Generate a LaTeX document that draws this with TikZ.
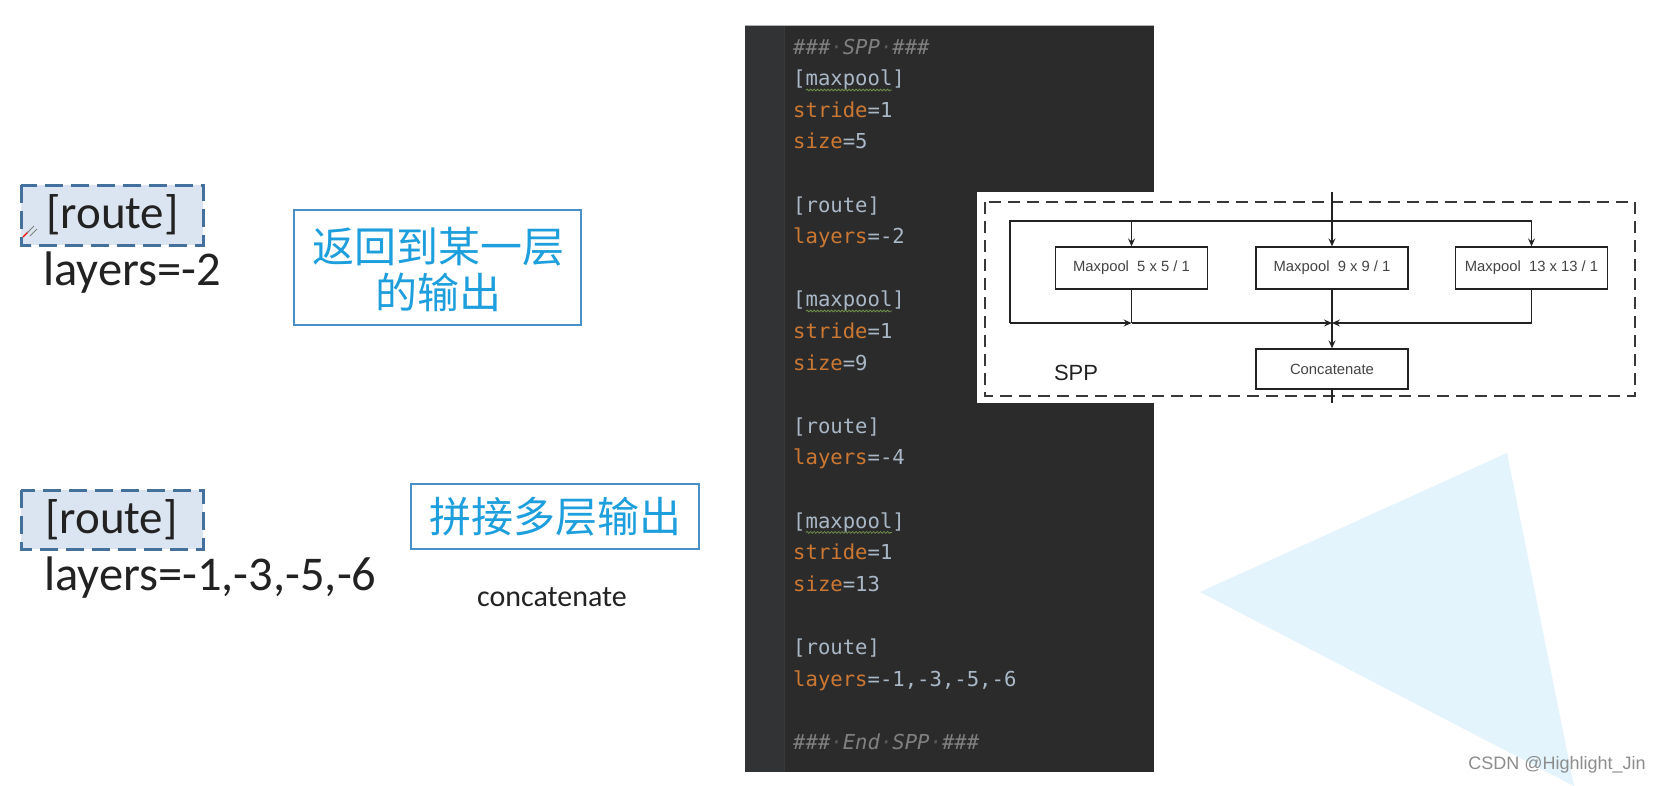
\documentclass[tikz,border=0pt]{standalone}
\usepackage{fontspec}
\setmainfont{Carlito}
\newfontfamily\cjk{Noto Sans CJK SC}
\newfontfamily\codefont{DejaVu Sans Mono}
\newfontfamily\arial{Liberation Sans}
\usetikzlibrary{arrows.meta,decorations.pathmorphing}
\definecolor{panel}{HTML}{2B2B2B}
\definecolor{gutter}{HTML}{313335}
\definecolor{kw}{HTML}{CC7832}
\definecolor{val}{HTML}{A9B7C6}
\definecolor{cmt}{HTML}{808080}
\definecolor{wsdot}{HTML}{5A5A5A}
\definecolor{wave}{HTML}{6F8F4A}
\definecolor{routefill}{HTML}{DAE5F1}
\definecolor{routeline}{HTML}{44709D}
\definecolor{cjkline}{HTML}{4A90C8}
\definecolor{cjktext}{HTML}{1E9FDD}
\definecolor{tri}{HTML}{E3F4FC}
\definecolor{ink}{HTML}{222222}
\definecolor{boxtext}{HTML}{444444}
\definecolor{mark}{HTML}{8C8C8C}
\tikzset{
  code/.style={inner sep=0pt, anchor=base west, font=\codefont\fontsize{20.6}{24}\selectfont, text=val},
  cmtline/.style={code, text=cmt, font=\codefont\itshape\fontsize{20.6}{24}\selectfont},
  wavy/.style={draw=wave, line width=0.8pt, decorate, decoration={snake, amplitude=0.9pt, segment length=3.5pt}},
  routebox/.style={draw=routeline, fill=routefill, line width=3pt, dash pattern=on 18pt off 8pt},
  routetxt/.style={inner sep=0pt, anchor=west, text=ink, font=\fontsize{47}{50}\selectfont},
  layerstxt/.style={inner sep=0pt, anchor=west, text=ink, font=\fontsize{48.5}{52}\selectfont},
  cjkbox/.style={draw=cjkline, line width=2.2pt},
  cjktxt/.style={inner sep=0pt, text=cjktext, font=\cjk\fontsize{42}{46}\selectfont},
  sppbox/.style={draw=ink, line width=1.3pt, fill=white, minimum width=152pt, minimum height=42pt, inner sep=0pt, text=boxtext, font=\arial\fontsize{14.8}{16}\selectfont},
  sppline/.style={draw=ink, line width=1.3pt},
  spparrow/.style={sppline, -{Stealth[length=8pt,width=7pt,inset=3pt]}},
}
\begin{document}
\begin{tikzpicture}[x=1pt,y=-1pt]
\useasboundingbox (0,0) rectangle (1662,785);
\fill[white] (0,0) rectangle (1662,785);

% background triangle
\fill[tri] (1507,453) -- (1200,592) -- (1574,786) -- cycle;

% ---------- left side ----------
\draw[routebox] (21,185) rectangle (203,245);
\node[routetxt] (r1) at (46,215) {[route]};
\node[layerstxt] (l1) at (43,273) {layers=-2};
\draw[red, line width=1.2pt] (23,237) -- (28,232);
\draw[gray, line width=0.8pt] (27,233) -- (34,226) (30,236) -- (37,229);

\node[cjkbox, minimum width=287pt, minimum height=115pt, inner sep=0pt] (z1) at (437.5,267.5) {};
\node[cjktxt] (z1a) at (438,247) {返回到某一层};
\node[cjktxt] (z1b) at (438,292) {的输出};

\draw[routebox] (21,490) rectangle (203,549);
\node[routetxt] (r2) at (45,520) {[route]};
\node[layerstxt] (l2) at (44,578) {layers=-1,-3,-5,-6};

\node[cjkbox, minimum width=288pt, minimum height=65pt, inner sep=0pt] (z2) at (555,516.5) {};
\node[cjktxt] (z2a) at (555,517) {拼接多层输出};
\node[inner sep=0pt, text=ink, font=\fontsize{30}{34}\selectfont] (cc) at (552,597) {concatenate};

% ---------- code panel ----------
\fill[panel] (745,26) rectangle (1154,772);
\fill[gutter] (745,26) rectangle (784,772);
\draw[gray!60, line width=1.5pt] (745,25.5) -- (1154,25.5);
\draw[gray!45!black, line width=0.8pt] (784,26) -- (784,772);

\node[cmtline] (c0) at (793,54) {\#\#\#{\color{wsdot}·}SPP{\color{wsdot}·}\#\#\#};
\node[code] (c1) at (793,85.6) {[maxpool]};
\node[code] (c2) at (793,117.2) {{\color{kw}stride}=1};
\node[code] (c3) at (793,148.8) {{\color{kw}size}=5};
\node[code] (c5) at (793,212) {[route]};
\node[code] (c6) at (793,243.6) {{\color{kw}layers}=-2};
\node[code] (c8) at (793,306.8) {[maxpool]};
\node[code] (c9) at (793,338.4) {{\color{kw}stride}=1};
\node[code] (c10) at (793,370) {{\color{kw}size}=9};
\node[code] (c12) at (793,433.2) {[route]};
\node[code] (c13) at (793,464.8) {{\color{kw}layers}=-4};
\node[code] (c15) at (793,528) {[maxpool]};
\node[code] (c16) at (793,559.6) {{\color{kw}stride}=1};
\node[code] (c17) at (793,591.2) {{\color{kw}size}=13};
\node[code] (c19) at (793,654.4) {[route]};
\node[code] (c20) at (793,686) {{\color{kw}layers}=-1,-3,-5,-6};
\node[cmtline] (c22) at (793,749.2) {\#\#\#{\color{wsdot}·}End{\color{wsdot}·}SPP{\color{wsdot}·}\#\#\#};
\draw[wavy] (806,90) -- (892,90);
\draw[wavy] (806,311) -- (892,311);
\draw[wavy] (806,532.4) -- (892,532.4);

% ---------- SPP figure ----------
\fill[white] (977,192) rectangle (1648,403);
\draw[draw=ink!90, line width=1.6pt, dash pattern=on 12pt off 7pt] (985,202) rectangle (1635,396);

\node[sppbox] (b1) at (1131.5,268) {Maxpool\ \ 5 x 5 / 1};
\node[sppbox] (b2) at (1332,268) {Maxpool\ \ 9 x 9 / 1};
\node[sppbox] (b3) at (1531.5,268) {Maxpool\ \ 13 x 13 / 1};
\node[sppbox, minimum height=40pt] (cat) at (1332,369) {Concatenate};
\node[inner sep=0pt, text=ink, font=\arial\fontsize{22}{24}\selectfont] (spp) at (1076,373) {SPP};

\coordinate (in) at (1332,192);
\coordinate (tl) at (1010,221);
\coordinate (t1) at (1131.5,221);
\coordinate (tr) at (1531.5,221);
\coordinate (bl) at (1010,323);
\coordinate (j1) at (1131.5,323);
\coordinate (j2) at (1332,323);
\coordinate (br) at (1531.5,323);
\coordinate (out) at (1332,403);

\draw[spparrow] (in) -- (b2.north);
\draw[sppline] (bl) -- (tl) -- (tr);
\draw[spparrow] (t1) -- (b1.north);
\draw[spparrow] (tr) -- (b3.north);
\draw[sppline] (b1.south) -- (j1);
\draw[sppline] (b2.south) -- (j2);
\draw[sppline] (b3.south) -- (br);
\draw[spparrow] (bl) -- (j1);
\draw[spparrow] (j1) -- (j2);
\draw[spparrow] (br) -- (j2);
\draw[spparrow] (j2) -- (cat.north);
\draw[sppline] (cat.south) -- (out);

% watermark
\node[inner sep=0pt, text=mark, font=\arial\fontsize{18}{20}\selectfont] (wm) at (1557,765) {CSDN @Highlight\_Jin};
\end{tikzpicture}
\end{document}
